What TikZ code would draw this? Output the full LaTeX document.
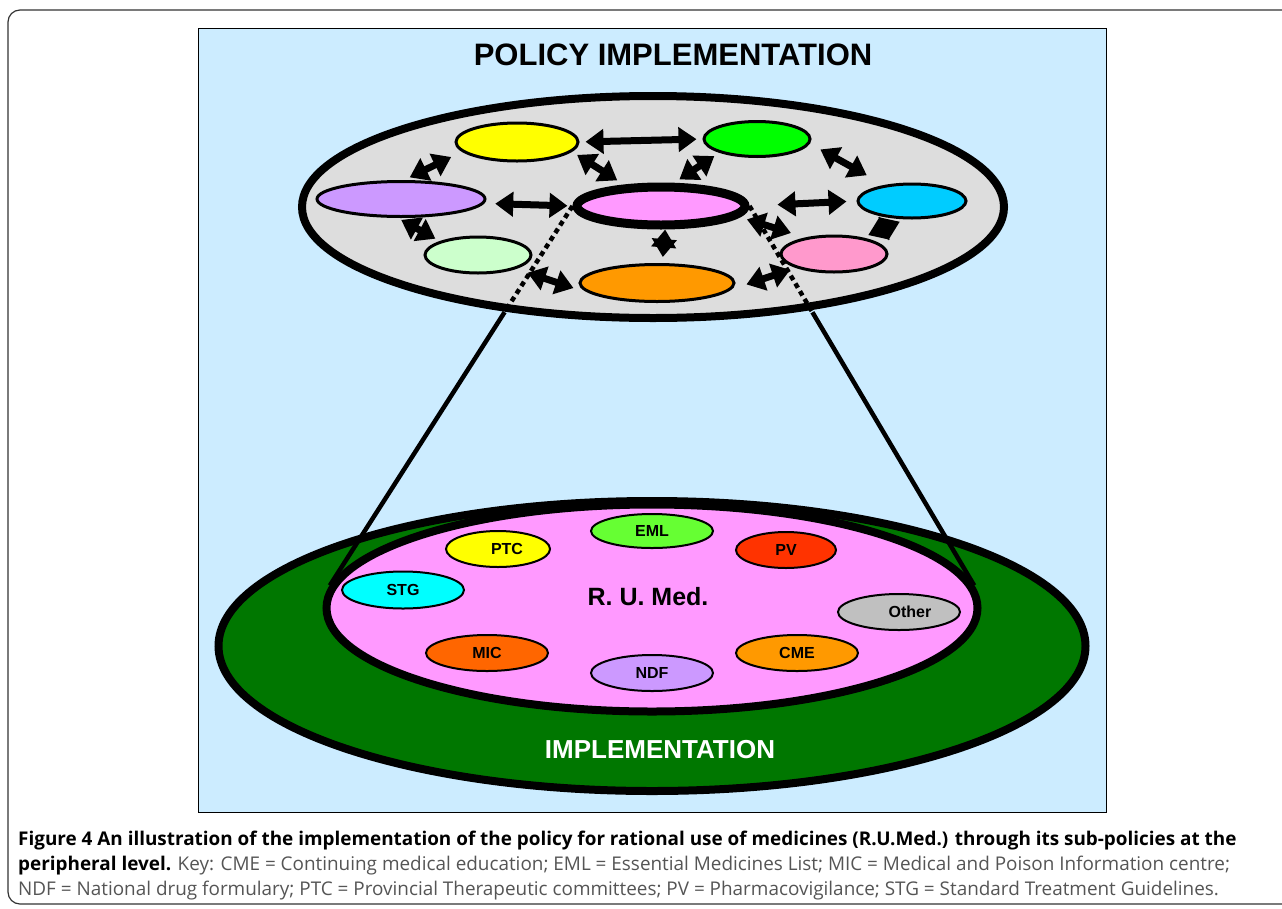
\documentclass[tikz,border=0pt]{standalone}
\usepackage{fontspec}
\setmainfont{Open Sans}
\newfontfamily\arialfont{Liberation Sans}
\usetikzlibrary{shapes.geometric,arrows.meta,calc}

\definecolor{panelblue}{RGB}{204,236,255}
\definecolor{plategray}{RGB}{221,221,221}
\definecolor{cyellow}{RGB}{255,255,0}
\definecolor{cgreen}{RGB}{0,255,0}
\definecolor{cviolet}{RGB}{204,153,255}
\definecolor{crose}{RGB}{255,153,255}
\definecolor{ccyan}{RGB}{0,204,255}
\definecolor{cpale}{RGB}{204,255,204}
\definecolor{corange}{RGB}{255,153,0}
\definecolor{cpink}{RGB}{255,153,204}
\definecolor{implgreen}{RGB}{0,119,0}
\definecolor{cemlgreen}{RGB}{102,255,51}
\definecolor{cred}{RGB}{255,51,0}
\definecolor{caqua}{RGB}{0,255,255}
\definecolor{csilver}{RGB}{192,192,192}
\definecolor{cmic}{RGB}{255,102,0}
\definecolor{keygray}{RGB}{85,85,85}

\begin{document}
\begin{tikzpicture}
	[x=1pt,y=-1pt,
	oval/.style={ellipse,draw,inner sep=0pt},
	sub/.style={oval,line width=3pt},
	pol/.style={oval,line width=2pt,font=\arialfont\bfseries\fontsize{16}{16}\selectfont},
	word/.style={inner sep=0pt,font=\arialfont\bfseries},
	captxt/.style={inner sep=0pt,anchor=base west,font=\fontsize{18.9}{18.9}\selectfont},
	dblarrow/.style={line width=7pt,{Triangle[length=18pt,width=24pt]}-{Triangle[length=18pt,width=24pt]}},
	link/.style={line width=4.5pt},
	dotlink/.style={line width=4.5pt,dash pattern=on 5pt off 4pt}]
	\useasboundingbox (0,0) rectangle (1282,908);
	\draw[black!80,line width=1.2pt,rounded corners=12pt] (8,10) rectangle (1310,904);
	\draw[fill=panelblue,line width=1pt] (198,28) rectangle (1106,812);
	
	\node[word,font=\arialfont\bfseries\fontsize{31}{31}\selectfont] (title) at (673,55) {POLICY IMPLEMENTATION};
	
	% lower level
	\node[oval,fill=implgreen,line width=8pt,minimum width=867pt,minimum height=290pt] (impl) at (652,646) {};
	\node[oval,fill=crose,line width=8pt,minimum width=651pt,minimum height=207pt] (rum) at (652,608) {};
	\node[word,font=\arialfont\bfseries\fontsize{25}{25}\selectfont] (rumtxt) at (648,597) {R. U. Med.};
	\node[word,white,font=\arialfont\bfseries\fontsize{26}{26}\selectfont] (impltxt) at (660,750) {IMPLEMENTATION};
	
	\node[pol,fill=cemlgreen,minimum width=122pt,minimum height=34pt] (eml) at (652,531) {EML};
	\node[pol,fill=cyellow,minimum width=104pt,minimum height=36pt] (ptc) at (498,549) {\hspace*{18pt}PTC};
	\node[pol,fill=cred,minimum width=100pt,minimum height=36pt] (pv) at (786,550) {PV};
	\node[pol,fill=caqua,minimum width=122pt,minimum height=37pt] (stg) at (403,590) {STG};
	\node[pol,fill=csilver,minimum width=122pt,minimum height=36pt] (oth) at (899,612) {\hspace*{22pt}Other};
	\node[pol,fill=cmic,minimum width=122pt,minimum height=36pt] (mic) at (487,653) {MIC};
	\node[pol,fill=cviolet,minimum width=122pt,minimum height=36pt] (ndf) at (652,673) {NDF};
	\node[pol,fill=corange,minimum width=122pt,minimum height=36pt] (cme) at (797,653) {CME};
	
	% upper level
	\node[oval,fill=plategray,line width=8pt,minimum width=702pt,minimum height=222pt] (plate) at (653,207) {};
	\node[sub,fill=cyellow,minimum width=122pt,minimum height=38pt] (yel) at (517,142) {};
	\node[sub,fill=cgreen,minimum width=106pt,minimum height=35pt] (grn) at (757,139) {};
	\node[sub,fill=cviolet,minimum width=168pt,minimum height=35pt] (vio) at (401,199) {};
	\node[oval,fill=crose,line width=9pt,minimum width=168pt,minimum height=38pt] (cen) at (661,206) {};
	\node[sub,fill=ccyan,minimum width=108pt,minimum height=34pt] (cya) at (912,201) {};
	\node[sub,fill=cpale,minimum width=106pt,minimum height=36pt] (pgr) at (478,255) {};
	\node[sub,fill=corange,minimum width=154pt,minimum height=37pt] (ora) at (657,283) {};
	\node[sub,fill=cpink,minimum width=106pt,minimum height=36pt] (pnk) at (834,254) {};
	
	\foreach \from/\to/\s/\e in {yel.east/grn.west/6/6,vio.80/yel.190/6/12,yel.-10/cen.150/6/8,
		grn.200/cen.60/6/6,grn.-5/cya.150/12/20,vio.-3/cen.west/11/5,cen.east/cya.west/28/10,
		vio.-100/pgr.160/4/5,cen.-80/ora.75/0/6,cen.-8/pnk.150/8/15,cya.-110/pnk.30/6/6,
		pgr.-20/ora.190/12/20,ora.-5/pnk.200/16/6}
	\draw[dblarrow,shorten <=\s pt,shorten >=\e pt] (\from) -- (\to);
	
	\coordinate (lm) at ($(cen.west)!0.28!(rum.176)$);
	\coordinate (rm) at ($(cen.east)!0.28!(rum.4)$);
	\draw[dotlink] (cen.west) -- (lm);
	\draw[link] (lm) -- (rum.176);
	\draw[dotlink] (cen.east) -- (rm);
	\draw[link] (rm) -- (rum.4);
	
	\node[captxt] (cap1) at (18,845) {\textbf{Figure 4 An illustration of the implementation of the policy for rational use of medicines (R.U.Med.) through its sub-policies at the}};
	\node[captxt] (cap2) at (18,870) {\textbf{peripheral level.} \color{keygray}Key: CME = Continuing medical education; EML = Essential Medicines List; MIC = Medical and Poison Information centre;};
	\node[captxt,keygray] (cap3) at (18,895) {NDF = National drug formulary; PTC = Provincial Therapeutic committees; PV = Pharmacovigilance; STG = Standard Treatment Guidelines.};
\end{tikzpicture}
\end{document}
